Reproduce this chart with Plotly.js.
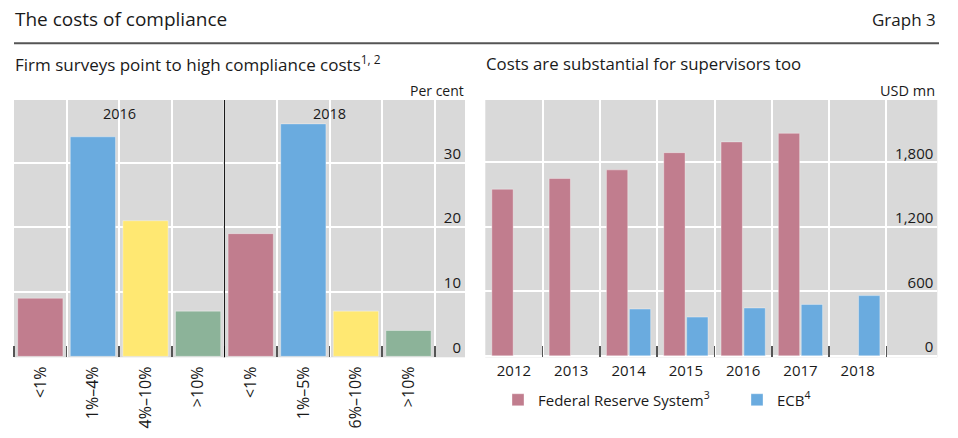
<!DOCTYPE html>
<html>
<head>
<meta charset="utf-8">
<script src="https://cdn.plot.ly/plotly-3.0.1.min.js"></script>
<style>html,body{margin:0;padding:0;background:#fff;}#chart{width:958px;height:438px;}</style>
</head>
<body>
<div id="chart"></div>
<script>
// ---- Data ----
const surveyLabels = ['<1%', '1%–4%', '4%–10%', '>10%', '<1%', '1%–5%', '6%–10%', '>10%'];
const surveyYears = ['2016', '2018'];
const surveyValues = [9, 34, 21, 7, 19, 36, 7, 4];
const supervisorYears = ['2012', '2013', '2014', '2015', '2016', '2017', '2018'];
const fedCosts = [1550, 1650, 1730, 1890, 1990, 2070, null];
const ecbCosts = [null, null, 435, 360, 445, 478, 560];
const leftTicks = [0, 10, 20, 30];
const rightTicks = [0, 600, 1200, 1800];

// ---- Styles ----
const FONT = '"Open Sans", "Noto Sans", sans-serif';
const INK = '#1a1a1a';
const PINK = '#c17d8e', BLUE = '#6aabdf', YELLOW = '#ffe872', GREEN = '#8cb399';
const barColors = [PINK, BLUE, YELLOW, GREEN, PINK, BLUE, YELLOW, GREEN];
const edge = {color: 'rgba(255,255,255,0.35)', width: 1};
const W = 958, H = 438;
const px = v => v / W, py = v => (H - v) / H;

const surveyPos = surveyLabels.map((_, i) => i);
const boundaries = surveyLabels.map((_, i) => i - 0.5).concat([surveyLabels.length - 0.5]);

const traces = [
  {type: 'bar', x: surveyPos, y: surveyValues, xaxis: 'x', yaxis: 'y', width: 0.86,
   marker: {color: barColors, line: edge}, showlegend: false, hoverinfo: 'y'},
  {type: 'bar', name: 'Federal Reserve System<sup>3</sup>', x: supervisorYears, y: fedCosts,
   xaxis: 'x2', yaxis: 'y2', marker: {color: PINK, line: edge}, legend: 'legend'},
  {type: 'bar', name: 'ECB<sup>4</sup>', x: supervisorYears, y: ecbCosts,
   xaxis: 'x2', yaxis: 'y2', marker: {color: BLUE, line: edge}, legend: 'legend2'}
];

const yDomain = [py(357.3), py(100)];
const yTickFont = {family: FONT, size: 15, color: INK};
const legendBase = {orientation: 'h', xanchor: 'left', y: py(400), yanchor: 'middle',
  font: {family: FONT, size: 15, color: INK}, bgcolor: 'rgba(0,0,0,0)'};

const layout = {
  width: W, height: H,
  margin: {l: 0, r: 0, t: 0, b: 0},
  paper_bgcolor: '#fff', plot_bgcolor: '#d9d9d9',
  font: {family: FONT, color: INK},
  barmode: 'group', bargap: 0.2, bargroupgap: 0.07,
  title: {text: 'The costs of compliance', x: px(15), xanchor: 'left', xref: 'paper',
          y: py(19), yanchor: 'middle', font: {family: FONT, size: 19, color: INK}},
  xaxis: {domain: [px(14), px(465)], anchor: 'y', type: 'linear', range: [-0.5, 8.074],
          tickmode: 'array', tickvals: surveyPos, ticktext: surveyLabels, tickangle: -90,
          ticks: '', showgrid: false, zeroline: false, showline: false, automargin: false,
          tickfont: {family: FONT, size: 16, color: INK}, ticklabelstandoff: 5,
          minor: {tickmode: 'array', tickvals: boundaries, ticks: 'inside', ticklen: 11,
                  tickwidth: 1.5, tickcolor: '#555', showgrid: true, gridcolor: '#ffffff', gridwidth: 2}},
  yaxis: {domain: yDomain, anchor: 'x', side: 'right', range: [-0.15, 39.7],
          tickmode: 'array', tickvals: leftTicks, ticklabelposition: 'inside', ticklabelshift: -9,
          ticklabeloverflow: 'allow', ticklabelstandoff: 1,
          ticks: '', showgrid: true, gridcolor: '#ffffff', gridwidth: 2, zeroline: false,
          automargin: false, tickfont: yTickFont},
  xaxis2: {domain: [px(485.3), px(937.3)], anchor: 'y2', type: 'category', range: [-0.5, 7.388],
           tickson: 'boundaries', ticks: 'inside', ticklen: 11, tickwidth: 1.5, tickcolor: '#555',
           showgrid: true, gridcolor: '#ffffff', gridwidth: 2, zeroline: false, automargin: false,
           ticklabelstandoff: 3, tickfont: {family: FONT, size: 15, color: INK}},
  yaxis2: {domain: yDomain, anchor: 'x2', side: 'right', range: [-14, 2380],
           tickmode: 'array', tickvals: rightTicks, tickformat: ',', ticklabelposition: 'inside',
           ticklabelshift: -9, ticklabeloverflow: 'allow', ticklabelstandoff: 1,
           ticks: '', showgrid: true, gridcolor: '#ffffff', gridwidth: 2,
           zeroline: false, automargin: false, tickfont: yTickFont},
  showlegend: true,
  legend: Object.assign({x: px(498)}, legendBase),
  legend2: Object.assign({x: px(737)}, legendBase),
  shapes: [
    {type: 'line', xref: 'paper', yref: 'paper', x0: px(14), x1: px(939), y0: py(43.3), y1: py(43.3),
     line: {color: '#555', width: 2}},
    {type: 'line', xref: 'x', yref: 'y domain', x0: 3.5, x1: 3.5, y0: 0, y1: 1,
     line: {color: '#000', width: 1}}
  ],
  annotations: [
    {text: 'Graph 3', xref: 'paper', yref: 'paper', x: px(938), y: py(19), xanchor: 'right', yanchor: 'middle',
     showarrow: false, font: {family: FONT, size: 17, color: INK}},
    {text: 'Firm surveys point to high compliance costs<sup>1, 2</sup>', xref: 'paper', yref: 'paper',
     x: px(13), y: py(63), xanchor: 'left', yanchor: 'middle', showarrow: false,
     font: {family: FONT, size: 17, color: INK}},
    {text: 'Costs are substantial for supervisors too', xref: 'paper', yref: 'paper',
     x: px(484), y: py(63), xanchor: 'left', yanchor: 'middle', showarrow: false,
     font: {family: FONT, size: 16.8, color: INK}},
    {text: 'Per cent', xref: 'paper', yref: 'paper', x: px(466), y: py(90), xanchor: 'right', yanchor: 'middle',
     showarrow: false, font: {family: FONT, size: 14, color: INK}},
    {text: 'USD mn', xref: 'paper', yref: 'paper', x: px(937), y: py(90), xanchor: 'right', yanchor: 'middle',
     showarrow: false, font: {family: FONT, size: 14.5, color: INK}},
    {text: surveyYears[0], xref: 'x', yref: 'y domain', x: 1.5, y: (357.3 - 113) / 257.3, yanchor: 'middle',
     showarrow: false, font: {family: FONT, size: 14.5, color: INK}},
    {text: surveyYears[1], xref: 'x', yref: 'y domain', x: 5.5, y: (357.3 - 113) / 257.3, yanchor: 'middle',
     showarrow: false, font: {family: FONT, size: 14.5, color: INK}}
  ]
};

Plotly.newPlot('chart', traces, layout, {displayModeBar: false, staticPlot: true});
</script>
</body>
</html>
